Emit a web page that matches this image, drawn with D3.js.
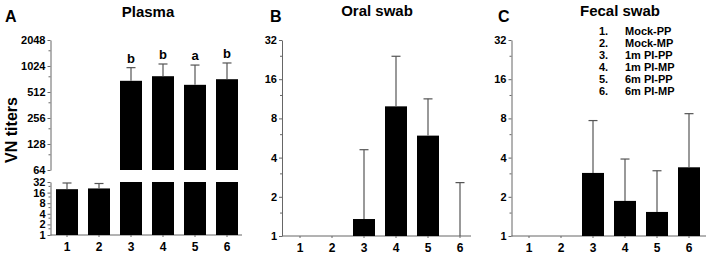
<!DOCTYPE html>
<html>
<head>
<meta charset="utf-8">
<script src="https://cdn.jsdelivr.net/npm/d3@7"></script>
<style>
  body { margin: 0; background: #fff; }
  svg text { font-family: Arial, "Liberation Sans", sans-serif; font-weight: bold; }
  .axis path, .axis line { stroke: #666; }
  .axis text { font-size: 11px; fill: #000; }
</style>
</head>
<body>
<svg id="chart" width="709" height="257"></svg>
<script>
// data
const groups = ["1", "2", "3", "4", "5", "6"];
const legendLabels = ["Mock-PP", "Mock-MP", "1m PI-PP", "1m PI-MP", "6m PI-PP", "6m PI-MP"];
const plasmaMean = [20, 21, 690, 780, 620, 720];
const plasmaUpper = [30, 29, 980, 1080, 1050, 1110];
const plasmaLetters = ["", "", "b", "b", "a", "b"];
const oralMean = [1, 1, 1.35, 9.9, 5.9, 1];
const oralUpper = [null, null, 4.6, 24, 11.3, 2.57];
const fecalMean = [1, 1, 3.05, 1.86, 1.53, 3.37];
const fecalUpper = [null, null, 7.7, 3.9, 3.17, 8.7];
const plasmaTicksHigh = [64, 128, 256, 512, 1024, 2048];
const plasmaTicksLow = [1, 2, 4, 8, 16, 32];
const swabTicks = [1, 2, 4, 8, 16, 32];

const svg = d3.select("svg#chart");
const errColor = "#555";
const capHalf = 4.5;

function minorTicks(g, scale, majors) {
  // one small tick between each pair of major ticks
  let minors = majors.slice(0, -1).map((v) => v * 1.5);
  g.selectAll("line.minor")
    .data(minors)
    .join("line")
    .attr("class", "minor")
    .attr("x1", -2)
    .attr("x2", 0)
    .attr("y1", (d) => scale(d))
    .attr("y2", (d) => scale(d))
    .attr("stroke", "#666");
}

function drawYAxis(x, scale, ticks) {
  let g = svg.append("g")
    .attr("class", "axis")
    .attr("transform", `translate(${x},0)`)
    .call(d3.axisLeft(scale).tickValues(ticks).tickFormat(d3.format("d")).tickSize(3).tickSizeOuter(0).tickPadding(2));
  minorTicks(g, scale, ticks);
  return g;
}

function drawXAxis(axisX, xScale, yBottom, endX) {
  let g = svg.append("g").attr("class", "axis");
  g.append("line")
    .attr("x1", axisX).attr("x2", endX)
    .attr("y1", yBottom).attr("y2", yBottom)
    .attr("stroke", "#666");
  g.selectAll("line.xt")
    .data(groups)
    .join("line")
    .attr("class", "xt")
    .attr("x1", (d) => xScale(d) + xScale.bandwidth() / 2)
    .attr("x2", (d) => xScale(d) + xScale.bandwidth() / 2)
    .attr("y1", yBottom).attr("y2", yBottom + 2)
    .attr("stroke", "#666");
  g.selectAll("text.xl")
    .data(groups)
    .join("text")
    .attr("class", "xl")
    .attr("x", (d) => xScale(d) + xScale.bandwidth() / 2)
    .attr("y", yBottom + 16)
    .attr("text-anchor", "middle")
    .style("font-size", "12px")
    .text((d) => d);
}

function errorBar(g, cx, y0, y1) {
  g.append("line")
    .attr("x1", cx).attr("x2", cx)
    .attr("y1", y0).attr("y2", y1)
    .attr("stroke", errColor).attr("stroke-width", 1.2);
  g.append("line")
    .attr("x1", cx - capHalf).attr("x2", cx + capHalf)
    .attr("y1", y1).attr("y2", y1)
    .attr("stroke", errColor).attr("stroke-width", 1.2);
}

function makeX(start) {
  return d3.scaleBand().domain(groups).range([start, start + 192])
    .paddingInner(0.3125).paddingOuter(0.15625);
}

// ---------- Panel A: plasma, broken axis ----------
const axA = 50.5;
const xA = makeX(51);
const yHigh = d3.scaleLog().base(2).domain([64, 2048]).range([170, 40]);
const yLow = d3.scaleLog().base(2).domain([1, 32]).range([235, 182]);
drawYAxis(axA, yHigh, plasmaTicksHigh);
drawYAxis(axA, yLow, plasmaTicksLow);
drawXAxis(axA, xA, 235, 242);

let barsA = svg.append("g");
groups.forEach((grp, i) => {
  let x = xA(grp);
  let w = xA.bandwidth();
  let cx = x + w / 2;
  let v = plasmaMean[i];
  if (v <= 32) {
    barsA.append("rect").attr("x", x).attr("width", w)
      .attr("y", yLow(v)).attr("height", yLow(1) - yLow(v)).attr("fill", "#000");
    errorBar(barsA, cx, yLow(v), yLow(plasmaUpper[i]));
  } else {
    barsA.append("rect").attr("x", x).attr("width", w)
      .attr("y", yLow(32)).attr("height", yLow(1) - yLow(32)).attr("fill", "#000");
    barsA.append("rect").attr("x", x).attr("width", w)
      .attr("y", yHigh(v)).attr("height", yHigh(64) - yHigh(v)).attr("fill", "#000");
    errorBar(barsA, cx, yHigh(v), yHigh(plasmaUpper[i]));
    barsA.append("text").attr("x", cx).attr("y", yHigh(plasmaUpper[i]) - 5)
      .attr("text-anchor", "middle").style("font-size", "13px").text(plasmaLetters[i]);
  }
});

svg.append("text").attr("x", 148).attr("y", 17).attr("text-anchor", "middle")
  .style("font-size", "15px").text("Plasma");
svg.append("text").attr("x", 5).attr("y", 22).style("font-size", "16px").text("A");
svg.append("text")
  .attr("transform", "translate(17,130) rotate(-90)")
  .attr("text-anchor", "middle")
  .style("font-size", "16px")
  .text("VN titers");

// ---------- Panels B and C: swabs ----------
function drawSwab(axX, bandStart, endX, means, uppers, title, titleX, letter, letterX) {
  let x = makeX(bandStart);
  let y = d3.scaleLog().base(2).domain([1, 32]).range([236, 40]);
  drawYAxis(axX, y, swabTicks);
  drawXAxis(axX, x, 236, endX);
  let g = svg.append("g");
  groups.forEach((grp, i) => {
    let bx = x(grp);
    let w = x.bandwidth();
    if (means[i] > 1) {
      g.append("rect").attr("x", bx).attr("width", w)
        .attr("y", y(means[i])).attr("height", y(1) - y(means[i])).attr("fill", "#000");
    }
    if (uppers[i] !== null) errorBar(g, bx + w / 2, y(means[i]), y(uppers[i]));
  });
  svg.append("text").attr("x", titleX).attr("y", 16).attr("text-anchor", "middle")
    .style("font-size", "15px").text(title);
  svg.append("text").attr("x", letterX).attr("y", 22).style("font-size", "16px").text(letter);
}

drawSwab(282, 284, 471, oralMean, oralUpper, "Oral swab", 377, "B", 270);
drawSwab(511.5, 513, 706, fecalMean, fecalUpper, "Fecal swab", 620, "C", 498);

// legend in panel C
let legend = svg.append("g");
legendLabels.forEach((lab, i) => {
  legend.append("text").attr("x", 599).attr("y", 35 + i * 12)
    .style("font-size", "11px").text(`${i + 1}.`);
  legend.append("text").attr("x", 625).attr("y", 35 + i * 12)
    .style("font-size", "11px").text(lab);
});
</script>
</body>
</html>
